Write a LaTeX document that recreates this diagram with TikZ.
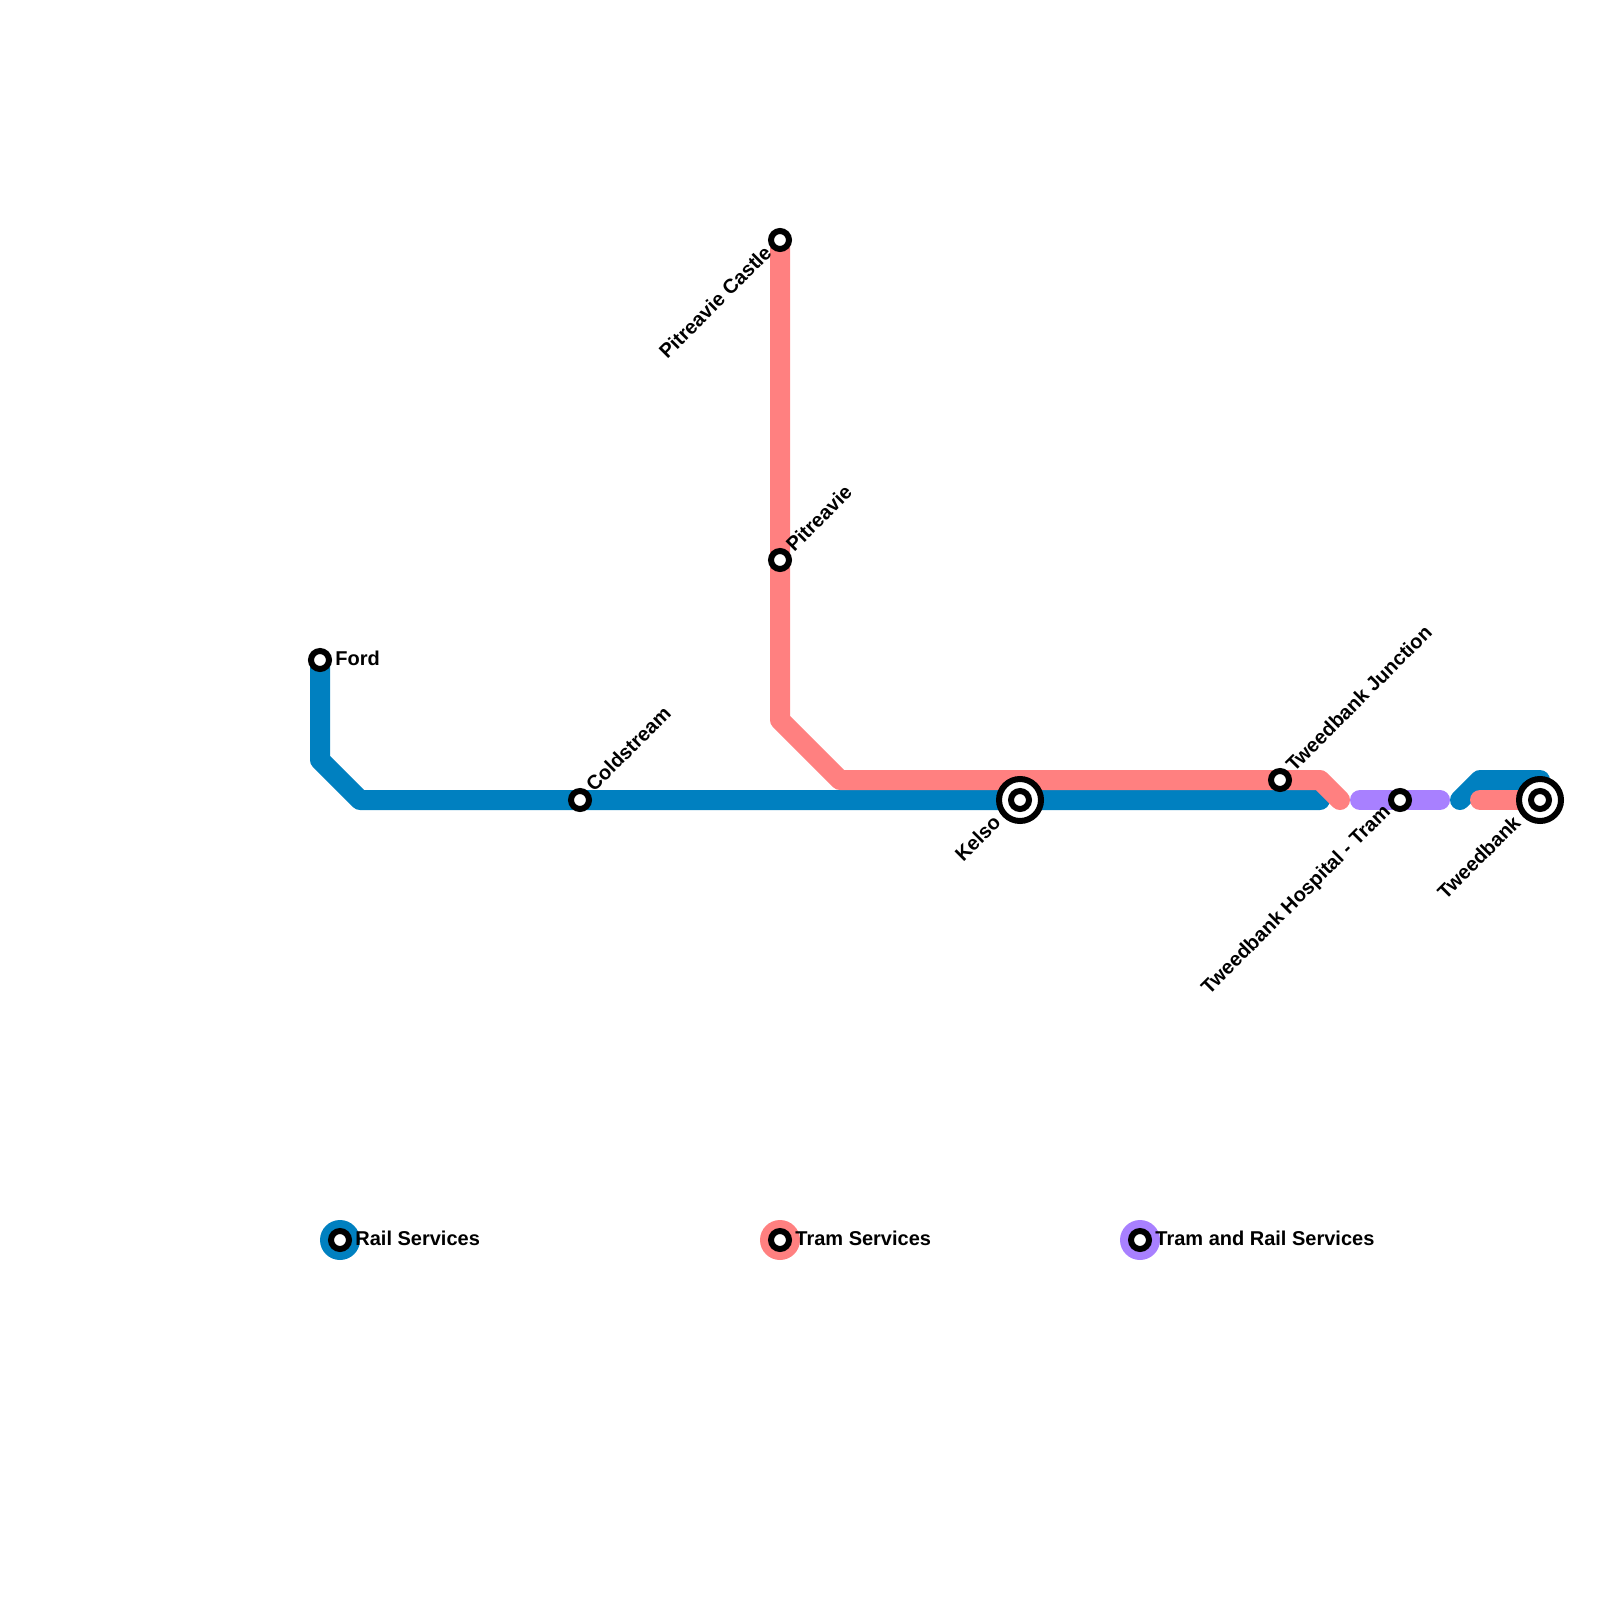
\documentclass[tikz,border=0pt]{standalone}
\usepackage{fontspec}
\setmainfont{Liberation Sans}
\usepackage{xcolor}
\usetikzlibrary{calc}
\definecolor{Rail}{HTML}{0080C0}
\definecolor{Tram}{HTML}{FF8080}
\definecolor{Both}{HTML}{A880FF}

\begin{document}
\begin{tikzpicture}[x=0.5pt,y=-0.5pt]
\tikzset{route/.style={line width=10pt,line cap=round,line join=round},
  stop/.style={circle,draw=black,fill=white,line width=3pt,inner sep=0pt,outer sep=0pt,minimum size=9pt},
  bigstop/.style={circle,draw=black,fill=white,line width=3pt,inner sep=0pt,outer sep=0pt,minimum size=21pt},
  legenddot/.style={circle,inner sep=0pt,minimum size=20pt},
  stoplabel/.style={font=\bfseries\fontsize{10pt}{12pt}\selectfont,text=black,inner sep=0pt}}
\useasboundingbox (0,0) rectangle (1600,1600);
% stops
\coordinate (ford) at (320,660);
\coordinate (cold) at (580,800);
\coordinate (castle) at (780,240);
\coordinate (pit) at (780,560);
\coordinate (kelso) at (1020,800);
\coordinate (junction) at (1280,780);
\coordinate (hosp) at (1400,800);
\coordinate (tweed) at (1540,800);
% rail
\draw[route,Rail] (ford) -- (320,760) -- (360,800) -- (1320,800);
\draw[route,Rail] (1460,800) -- (1480,780) -- (1540,780) -- (tweed);
% tram
\draw[route,Tram] (castle) -- (780,720) -- (840,780) -- (1320,780) -- (1340,800);
\draw[route,Tram] (1480,800) -- (tweed);
% both
\draw[route,Both] (1360,800) -- (1440,800);
% stations
\node[stop] (fordstop) at (ford) {};
\node[stop] (coldstop) at (cold) {};
\node[stop] (castlestop) at (castle) {};
\node[stop] (pitstop) at (pit) {};
\node[bigstop] (kelsoring) at (kelso) {};
\node[stop] (kelsostop) at (kelso) {};
\node[stop] (junctionstop) at (junction) {};
\node[stop] (hospstop) at (hosp) {};
\node[bigstop] (tweedring) at (tweed) {};
\node[stop] (tweedstop) at (tweed) {};
% labels
\node[stoplabel,anchor=west] (fordlbl) at ($(ford)+(15,-2)$) {Ford};
\node[stoplabel,anchor=west,rotate=45] (coldlbl) at ($(cold)+(9,-12)$) {Coldstream};
\node[stoplabel,anchor=east,rotate=45] (castlelbl) at ($(castle)+(-12,9)$) {Pitreavie Castle};
\node[stoplabel,anchor=west,rotate=45] (pitlbl) at ($(pit)+(9,-12)$) {Pitreavie};
\node[stoplabel,anchor=east,rotate=45] (kelsolbl) at ($(kelso)+(-23,19)$) {Kelso};
\node[stoplabel,anchor=west,rotate=45] (junctionlbl) at ($(junction)+(9,-12)$) {Tweedbank Junction};
\node[stoplabel,anchor=east,rotate=45] (hosplbl) at ($(hosp)+(-12,9)$) {Tweedbank Hospital - Tram};
\node[stoplabel,anchor=east,rotate=45] (tweedlbl) at ($(tweed)+(-23,19)$) {Tweedbank};
% legend
\node[legenddot,fill=Rail] (raildot) at (340,1240) {};
\node[stop] (railstop) at (raildot) {};
\node[stoplabel,anchor=west] (raillbl) at ($(raildot)+(15,-2)$) {Rail Services};
\node[legenddot,fill=Tram] (tramdot) at (780,1240) {};
\node[stop] (tramstop) at (tramdot) {};
\node[stoplabel,anchor=west] (tramlbl) at ($(tramdot)+(15,-2)$) {Tram Services};
\node[legenddot,fill=Both] (bothdot) at (1140,1240) {};
\node[stop] (bothstop) at (bothdot) {};
\node[stoplabel,anchor=west] (bothlbl) at ($(bothdot)+(15,-2)$) {Tram and Rail Services};
\end{tikzpicture}
\end{document}
